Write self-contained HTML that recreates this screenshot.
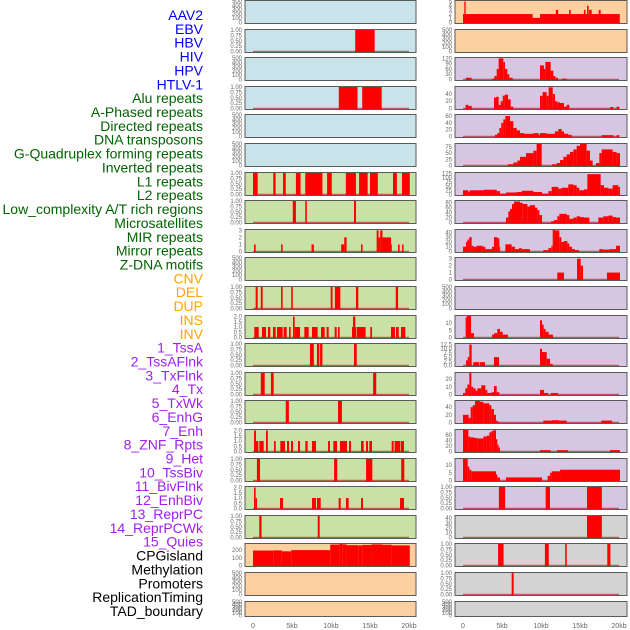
<!DOCTYPE html>
<html><head><meta charset="utf-8">
<style>
html,body{margin:0;padding:0;background:#fff;}
svg{display:block;font-family:"Liberation Sans",sans-serif;}
</style></head>
<body>
<svg id="chart" width="630" height="630" viewBox="0 0 630 630" xmlns="http://www.w3.org/2000/svg"></svg>
<script>
// ---- data ----
const trackLabels = ["AAV2","EBV","HBV","HIV","HPV","HTLV-1","Alu repeats","A-Phased repeats","Directed repeats","DNA transposons","G-Quadruplex forming repeats","Inverted repeats","L1 repeats","L2 repeats","Low_complexity A/T rich regions","Microsatellites","MIR repeats","Mirror repeats","Z-DNA motifs","CNV","DEL","DUP","INS","INV","1_TssA","2_TssAFlnk","3_TxFlnk","4_Tx","5_TxWk","6_EnhG","7_Enh","8_ZNF_Rpts","9_Het","10_TssBiv","11_BivFlnk","12_EnhBiv","13_ReprPC","14_ReprPCWk","15_Quies","CPGisland","Methylation","Promoters","ReplicationTiming","TAD_boundary"];
const xTickValues = [0,5,10,15,20];
const xTickLabels = ["0","5kb","10kb","15kb","20kb"];
const tickEmpty = [0,100,200,300,400,500];
const tickBin = [0,0.25,0.5,0.75,1];
const tickTwo = [0,0.5,1,1.5,2];

// left column panels: [start kb, end kb, value]
const L0=[],L2=[],L4=[],L5=[],L9=[],L20=[],L21=[];
const L1=[[13.1,15.6,1]];
const L3=[[11.0,13.4,1],[14.0,16.5,1]];
const L6=[[0,0.6,1],[2.6,2.9,1],[3.85,4.2,1],[5.5,6.1,1],[6.7,8.9,1],[9.5,10.1,1],[11.9,13.2,1],[13.6,14.7,1],[15.0,16.0,1],[17.95,18.45,1],[19.1,20.1,1]];
const L7=[[5.1,5.5,1],[6.7,6.9,1],[12.95,13.2,1]];
const L8=[[0.13,0.34,1],[3.6,3.8,1],[7.5,7.8,1],[11.3,11.7,1],[11.7,12.0,2],[13.85,14.05,1],[15.85,16.1,3],[16.1,16.3,2],[16.3,16.6,3],[16.6,17.7,2],[17.7,17.8,1],[18.6,18.8,1],[19.1,19.3,1]];
const L10=[[0.34,0.6,1],[1.0,1.24,1],[3.6,3.8,1],[4.9,5.1,1],[9.96,10.2,1],[10.5,11.2,1],[13.2,13.5,1],[18.3,18.6,1]];
const L11=[[0.17,0.73,1],[1.15,1.67,1],[1.92,2.22,1],[2.56,2.91,1],[3.08,3.8,1],[3.93,4.32,1],[4.62,4.83,1],[5.34,6.03,1],[6.58,7.14,1],[7.56,8.29,1],[8.72,9.19,1],[9.44,9.7,1],[10.47,10.73,1],[10.9,11.11,1],[12.69,13.25,1],[13.33,14.44,1],[15.04,15.26,1],[17.69,18.2,1],[18.33,18.68,1],[18.97,19.53,1],[5.13,5.34,2],[12.82,13.12,2]];
const L12=[[7.3,7.8,1],[8.2,8.5,1],[8.6,8.9,1],[12.95,13.3,1]];
const L13=[[1.0,1.5,1],[2.3,2.65,1],[15.4,15.8,1]];
const L14=[[4.2,4.6,1],[10.9,11.4,1]];
const L15=[[0.13,0.38,2],[1.67,1.9,2],[0.38,0.68,1],[0.81,1.37,1],[2.69,2.91,1],[3.5,4.1,1],[4.36,4.62,1],[4.87,5.13,1],[5.77,6.03,1],[6.71,7.01,1],[7.56,8.08,1],[9.62,9.87,1],[10.3,10.77,1],[11.15,12.05,1],[12.31,12.56,1],[13.85,14.19,1],[14.49,14.74,1],[14.91,15.26,1],[17.78,18.03,1],[18.16,18.89,1],[18.97,19.36,1]];
const L16=[[0.5,0.9,1],[10.4,10.8,1],[14.5,15.3,1],[19.0,19.4,1]];
const L17=[[0.13,0.34,2],[0.34,0.51,1],[3.46,3.85,1],[7.56,8.08,1],[8.21,8.68,1],[10.98,11.24,1],[11.92,12.26,1],[13.85,14.1,1],[18.85,19.36,1]];
const L18=[[0.8,1.1,1],[8.3,8.55,1]];
const L19=[[0,2.6,195],[2.6,3.7,197],[3.7,4.9,185],[4.9,9.9,200],[9.9,11.1,272],[11.1,11.5,280],[11.5,12.0,275],[12.0,13.5,265],[13.5,14.0,262],[14.0,15.2,268],[15.2,16.6,275],[16.6,17.8,270],[17.8,20.1,262]];

// right column panels
const R1=[],R10=[],R21=[];
const R0=[[0,8.93,2],[8.93,9.87,1.1],[9.87,20.1,2],[0.17,0.34,5],[11.9,12.2,3],[13.6,13.8,3],[15.5,15.7,3],[15.9,16.1,4],[16.15,16.5,3],[17.4,17.65,3]];
const R2=[[0.38,1.11,10],[3.76,4.02,5],[4.02,4.32,20],[4.32,4.57,60],[4.57,5.17,120],[5.17,5.38,100],[5.38,5.68,60],[5.68,5.94,30],[5.94,6.37,10],[9.87,10.38,80],[10.38,10.56,60],[10.56,11.24,100],[11.24,11.58,50],[11.58,11.84,20],[11.84,12.18,10],[12.69,13.29,5]];
const R3=[[0.34,0.68,10],[0.68,1.11,7],[3.97,4.23,30],[4.23,4.57,32],[4.57,4.83,10],[4.83,5.09,20],[5.09,5.34,35],[5.34,5.77,38],[5.77,6.11,25],[6.11,6.45,5],[9.87,10.21,35],[10.21,10.73,45],[10.73,10.98,35],[10.98,11.5,58],[11.5,11.79,40],[11.79,12.09,20],[12.09,12.44,17],[12.44,12.95,15],[12.95,13.29,5],[13.29,13.63,10],[18.85,19.27,4],[19.7,20.04,5]];
const R4=[[4.1,4.4,5],[4.4,4.66,10],[4.66,4.91,25],[4.91,5.17,40],[5.17,5.43,50],[5.43,6.03,60],[6.03,6.45,45],[6.45,6.88,25],[6.88,7.31,18],[7.31,7.82,10],[7.82,9.02,8],[9.02,9.7,10],[9.7,9.87,5],[9.87,10.73,10],[10.73,11.79,8],[11.79,12.22,15],[12.22,12.65,22],[12.65,12.95,15],[12.95,13.5,8],[13.5,13.93,5],[17.78,19.27,4],[19.7,20.04,4]];
const R5=[[5.73,6.45,5],[6.45,6.97,12],[6.97,7.31,20],[7.31,8.08,35],[8.08,9.02,50],[9.02,9.44,60],[9.44,10.09,87],[11.41,12.01,5],[12.01,12.44,10],[12.44,12.86,22],[12.86,13.29,35],[13.29,13.72,45],[13.72,14.15,55],[14.15,14.57,65],[14.57,15.0,80],[15.0,15.85,87],[15.85,16.28,60],[16.28,16.62,20],[17.05,17.48,10],[17.48,17.78,50],[17.78,19.19,65],[19.19,19.7,55],[19.7,20.13,50]];
const R6=[[0,0.68,25],[0.68,0.9,18],[0.9,2.61,25],[2.61,4.32,28],[4.32,4.74,20],[4.74,5.51,5],[5.51,6.88,12],[6.88,7.52,15],[7.52,9.02,22],[9.02,10.13,15],[10.13,10.94,5],[10.94,11.37,20],[11.37,12.22,45],[12.22,12.65,35],[12.65,13.5,40],[13.5,14.15,60],[14.15,14.57,55],[14.57,14.91,40],[14.91,15.51,25],[15.51,15.94,30],[15.94,17.65,120],[17.65,18.08,55],[18.08,18.63,40],[18.63,19.19,35],[19.19,19.91,55],[19.91,20.13,45]];
const R7=[[5.51,5.81,20],[5.81,6.03,45],[6.03,6.28,55],[6.28,6.54,75],[6.54,7.31,85],[7.31,7.65,80],[7.65,8.25,75],[8.25,8.59,65],[8.59,9.23,70],[9.23,9.53,60],[9.53,9.79,50],[9.79,10.13,30],[11.28,11.67,5],[11.67,12.09,10],[12.09,12.35,25],[12.35,13.29,35],[13.29,13.63,30],[13.63,14.15,15],[14.15,14.57,20],[14.57,15.0,25],[15.0,15.51,22],[15.51,16.2,20],[17.35,17.99,20],[17.99,18.63,25],[18.63,19.19,28],[19.19,19.62,22],[19.62,20.13,20]];
const R8=[[0,0.38,10],[0.38,0.56,20],[0.56,0.81,25],[0.81,1.11,30],[1.11,1.32,12],[1.32,1.75,10],[1.75,2.52,12],[2.52,2.86,10],[2.86,3.72,5],[3.72,3.97,10],[3.97,4.4,30],[4.4,4.66,28],[4.66,4.74,10],[5.43,6.24,15],[6.24,6.67,10],[6.67,7.18,5],[7.18,7.52,7],[7.52,8.59,5],[10.3,10.94,3],[10.94,11.32,7],[11.32,11.5,12],[11.5,11.79,45],[11.79,12.35,44],[12.35,12.61,30],[12.61,12.95,20],[12.95,13.38,22],[13.38,13.63,17],[13.63,13.97,10],[13.97,14.36,5],[14.36,14.87,3],[17.48,17.91,5],[17.91,18.76,4],[18.76,19.62,5],[19.62,20.13,12]];
const R9=[[12.09,12.95,1],[14.62,15.09,3],[15.09,15.38,2],[18.46,20.13,1]];
const R11=[[0.34,0.51,14],[0.51,1.03,15],[1.03,1.41,3],[3.72,3.97,2],[3.97,4.4,3],[4.4,4.74,6],[4.74,5.09,4],[5.09,5.77,2],[9.87,10.13,12],[10.13,10.34,9],[10.34,10.6,6],[10.6,10.98,4],[10.98,11.54,2]];
const R12=[[0.38,0.6,3],[0.6,0.81,5],[0.81,1.11,12.5],[1.32,2.09,2],[2.18,2.82,2],[3.97,4.62,5],[9.87,10.13,10],[10.13,10.73,8],[10.73,11.15,4],[11.15,11.5,1]];
const R13=[[0,0.3,2],[0.3,0.56,8],[0.56,0.81,13],[0.81,1.07,28],[1.07,1.32,10],[1.32,1.62,8],[1.62,1.84,5],[1.84,2.35,8],[2.35,2.86,12],[2.86,3.12,6],[3.12,3.63,2],[3.63,3.97,3],[3.97,4.32,11],[4.32,4.66,3],[9.87,10.38,6],[10.38,10.9,2],[11.28,12.18,2]];
const R14=[[0,0.73,20],[0.73,0.98,12],[0.98,1.24,40],[1.24,1.54,45],[1.54,2.18,56],[2.18,2.61,54],[2.61,3.38,50],[3.38,3.63,45],[3.63,3.97,35],[3.97,4.23,20],[4.23,4.4,5],[4.4,4.66,2],[10.3,11.37,5],[11.37,12.35,6],[12.35,13.29,5],[17.74,19.1,5]];
const R15=[[0,0.68,79],[0.68,0.9,55],[0.9,1.41,52],[1.41,1.84,50],[1.84,2.61,48],[2.61,3.03,55],[3.03,3.38,58],[3.38,3.63,70],[3.63,3.89,75],[3.89,4.23,78],[4.23,4.4,45],[4.4,4.57,25],[4.57,4.74,15],[9.87,11.24,5],[12.05,13.46,5],[18.85,20.13,5]];
const R16=[[0,0.6,14],[0.6,0.81,9],[0.81,1.07,7],[1.07,4.23,6],[4.23,4.4,4],[4.4,4.74,2],[5.51,10.13,2],[10.85,11.15,3],[11.15,11.37,5],[11.37,12.44,6],[12.44,20.13,7]];
const R17=[[4.6,5.4,1],[10.6,11.15,1],[15.9,17.8,1]];
const R18=[[15.9,17.8,44]];
const R19=[[4.5,5.2,1],[10.5,11.0,1],[13.1,13.3,1],[18.5,18.9,1]];
const R20=[[6.24,6.5,1]];

const leftData=[L0,L1,L2,L3,L4,L5,L6,L7,L8,L9,L10,L11,L12,L13,L14,L15,L16,L17,L18,L19,L20,L21];
const rightData=[R0,R1,R2,R3,R4,R5,R6,R7,R8,R9,R10,R11,R12,R13,R14,R15,R16,R17,R18,R19,R20,R21];
const leftTicks=[tickEmpty,tickBin,tickEmpty,tickBin,tickEmpty,tickEmpty,tickBin,tickBin,[0,1,2,3],tickEmpty,tickBin,tickTwo,tickBin,tickBin,tickBin,tickTwo,tickBin,tickTwo,tickBin,[0,100,200],tickEmpty,tickEmpty];
const leftMax=[500,1,500,1,500,500,1,1,3.05,500,1,2.05,1,1,1,2.05,1,2.05,1,280,500,500];
const rightTicks=[[0,1,2,3,4,5],tickEmpty,[0,30,60,90,120],[0,20,40],[0,20,40,60],[0,25,50,75],[0,25,50,75,100,125],[0,20,40,60,80],[0,10,20,30,40],[0,1,2,3],tickEmpty,[0,5,10],[0,2.5,5,7.5,10,12.5],[0,10,20],[0,20,40],[0,20,40,60],[0,5,10],tickBin,[0,10,20,30,40],tickBin,tickBin,tickEmpty];
const rightMax=[5.1,500,122,59,63,87,127,87,45,3.1,500,15,12.8,28,56,79,14,1,44,1,1,500];

// ---- drawing ----
const NS="http://www.w3.org/2000/svg";
const svg=document.getElementById('chart');
function mk(tag,attrs,parent){const e=document.createElementNS(NS,tag);for(const k in attrs)e.setAttribute(k,attrs[k]);(parent||svg).appendChild(e);return e;}
const BG={blue:"#c9e3eb",green:"#c9e1a5",peach:"#fdd09f",purple:"#d6c6e2",gray:"#d3d3d3"};
function leftBg(r){return r<6?BG.blue:(r<19?BG.green:BG.peach);}
function rightBg(r){return r<2?BG.peach:(r<18?BG.purple:BG.gray);}
function rowTop(r){return Math.round(r*28.6);}
function rowH(r){return r===21?16:24;}
const labelColors=i=>i<6?"#0000ff":(i<19?"#006400":(i<24?"#ffa500":(i<39?"#a020f0":"#000000")));
function fmt(t,ticks){
  if(ticks===tickBin) return t.toFixed(2);
  if(ticks===tickTwo) return t.toFixed(1);
  if(ticks.indexOf(12.5)>=0) return t.toFixed(1);
  return String(t);
}

trackLabels.forEach((lab,i)=>{
  const t=mk('text',{x:203,y:15+i*13.86+5,'text-anchor':'end','font-size':14,fill:labelColors(i)});
  
  
  t.textContent=lab;
});

function drawPanel(x0,x1,zero,pxPerKb,r,bg,data,ticks,ymax,side){
  const top=rowTop(r),h=rowH(r);
  const g=mk('g',{});
  
  
  mk('rect',{x:x0,y:top+0.5,width:x1-x0,height:h-1,fill:bg},g);
  const yB=top+h-1.5,yT=top+1;
  const ys=v=>yB-Math.min(v,ymax)/ymax*(yB-yT);
  const xs=k=>zero+k*pxPerKb;
  if(data.length){
    const bl=mk('line',{x1:xs(0),x2:xs(20),y1:yB,y2:yB,stroke:"rgba(160,0,0,0.55)","stroke-width":1.5},g);
    
    
  }
  data.forEach(d=>{
    const b=mk('rect',{x:xs(d[0]),y:ys(d[2]),width:Math.max(0.8,xs(d[1])-xs(d[0])),height:yB-ys(d[2])+0.5,fill:"#ff0000"},g);
    
    
  });
  mk('rect',{x:x0,y:top+0.5,width:x1-x0,height:h-1,fill:"none",stroke:"#5a5a5a","stroke-width":1},g);
  ticks.forEach(t=>{
    const tl=mk('text',{x:x0-3,y:ys(t)+2,'text-anchor':'end','font-size':6,fill:"#666"},g);
    
    
    tl.textContent=fmt(t,ticks);
  });
}
for(let r=0;r<22;r++){
  drawPanel(245,416,253,7.8,r,leftBg(r),leftData[r],leftTicks[r],leftMax[r],'left');
  drawPanel(455,627,463,7.8,r,rightBg(r),rightData[r],rightTicks[r],rightMax[r],'right');
}
[253,463].forEach((z,ci)=>{
  xTickValues.forEach((v,i)=>{
    const t=mk('text',{x:z+v*7.8,y:628,'text-anchor':'middle','font-size':7,fill:"#666"});
    
    
    t.textContent=xTickLabels[i];
  });
});
</script>
</body></html>
